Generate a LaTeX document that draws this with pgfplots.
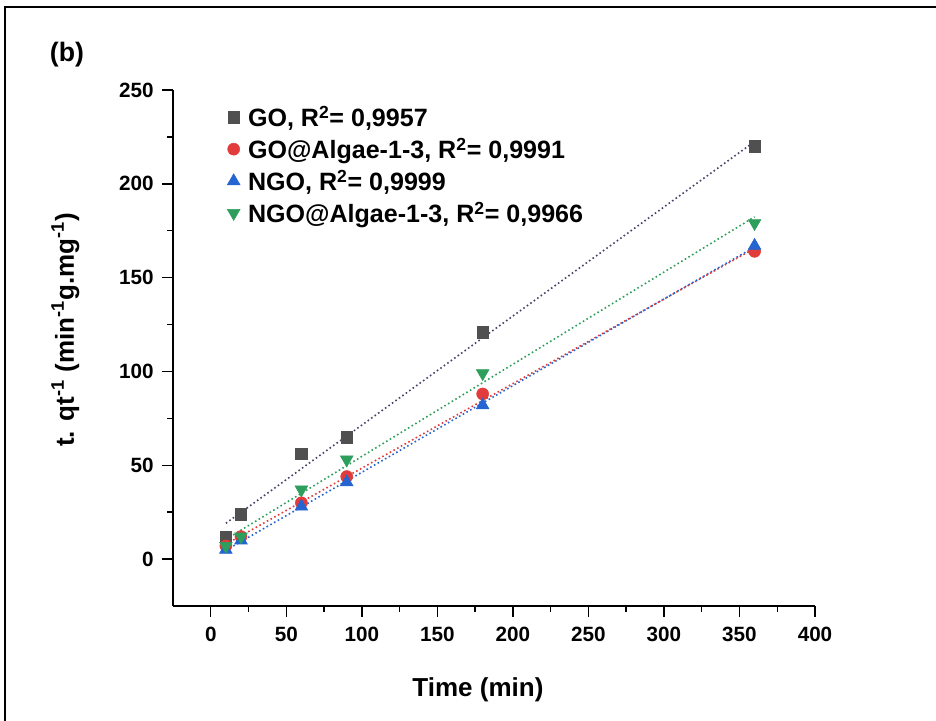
\documentclass[border=0pt]{standalone}
\usepackage{pgfplots}
\pgfplotsset{compat=1.18}
\usepackage{fontspec}
\setmainfont{Liberation Sans}
\definecolor{cGO}{HTML}{505050}
\definecolor{cGOA}{HTML}{E23B3B}
\definecolor{cNGO}{HTML}{2465D2}
\definecolor{cNGOA}{HTML}{2E9E5C}
\begin{document}
\begin{tikzpicture}
\useasboundingbox (0,0) rectangle (702pt,540.75pt);
% frame (left and top edges only)
\draw[line width=1.5pt] (3.75pt,0) -- (3.75pt,535.5pt) -- (702pt,535.5pt);
\node[font=\fontsize{20}{22}\selectfont\bfseries] at (50.25pt,499.5pt) {(b)};
\begin{axis}[
    at={(129.75pt,86.25pt)}, anchor=south west,
    scale only axis, width=481.5pt, height=387pt,
    xmin=-25, xmax=400, ymin=-25, ymax=250,
    xtick={0,50,...,400}, ytick={0,50,...,250},
    minor x tick num=1, minor y tick num=1,
    axis lines=left, axis line style={line width=1.3pt, -},
    tick style={line width=1.1pt, black},
    tick align=outside,
    major tick length=8pt, minor tick length=4.5pt,
    /pgf/number format/assume math mode=true,
    tick label style={font=\fontsize{15.5}{17}\selectfont\bfseries},
    xticklabel style={yshift=-4pt},
    yticklabel style={xshift=-3pt},
    xlabel={Time (min)},
    ylabel={t. qt\textsuperscript{-1} (min\textsuperscript{-1}g.mg\textsuperscript{-1})},
    label style={font=\fontsize{19.5}{22}\selectfont\bfseries},
    xlabel style={at={(ticklabel cs:0.475)}, yshift=-20pt},
    ylabel style={at={(ticklabel cs:0.535)}, yshift=23pt},
    legend style={draw=none, fill=none, at={(axis description cs:0.078,0.98)}, anchor=north west,
        font=\fontsize{18.8}{21}\selectfont\bfseries, row sep=3pt, nodes={inner xsep=6pt}},
    legend cell align=left,
    clip=false,
]
% linear fits
\addplot[cGO!85!blue, line width=1.2pt, dotted, forget plot] coordinates {(10,19.1) (360,222.5)};
\addplot[cGOA, line width=1.2pt, dotted, forget plot] coordinates {(10,7.9) (360,165.6)};
\addplot[cNGO, line width=1.2pt, dotted, forget plot] coordinates {(10,4.7) (360,166.3)};
\addplot[cNGOA, line width=1.2pt, dotted, forget plot] coordinates {(10,10.5) (360,182.4)};
% data
\addplot[only marks, mark=square*, mark size=4.3pt, color=cGO] coordinates {
  (10,12) (20,24) (60,56) (90,65) (180,121) (360,220)};
\addlegendentry{GO, R\textsuperscript{2}= 0,9957}
\addplot[only marks, mark=*, mark size=4.5pt, color=cGOA] coordinates {
  (10,7) (20,12) (60,30) (90,44) (180,88) (360,164)};
\addlegendentry{GO@Algae-1-3, R\textsuperscript{2}= 0,9991}
\addplot[only marks, mark=triangle*, mark size=5.5pt, color=cNGO] coordinates {
  (10,5) (20,10) (60,28) (90,41) (180,82) (360,167)};
\addlegendentry{NGO, R\textsuperscript{2}= 0,9999}
\addplot[only marks, mark=triangle*, mark options={rotate=180}, mark size=5.5pt, color=cNGOA] coordinates {
  (10,7) (20,12) (60,37) (90,53) (180,99) (360,179)};
\addlegendentry{NGO@Algae-1-3, R\textsuperscript{2}= 0,9966}
\end{axis}
\end{tikzpicture}
\end{document}
